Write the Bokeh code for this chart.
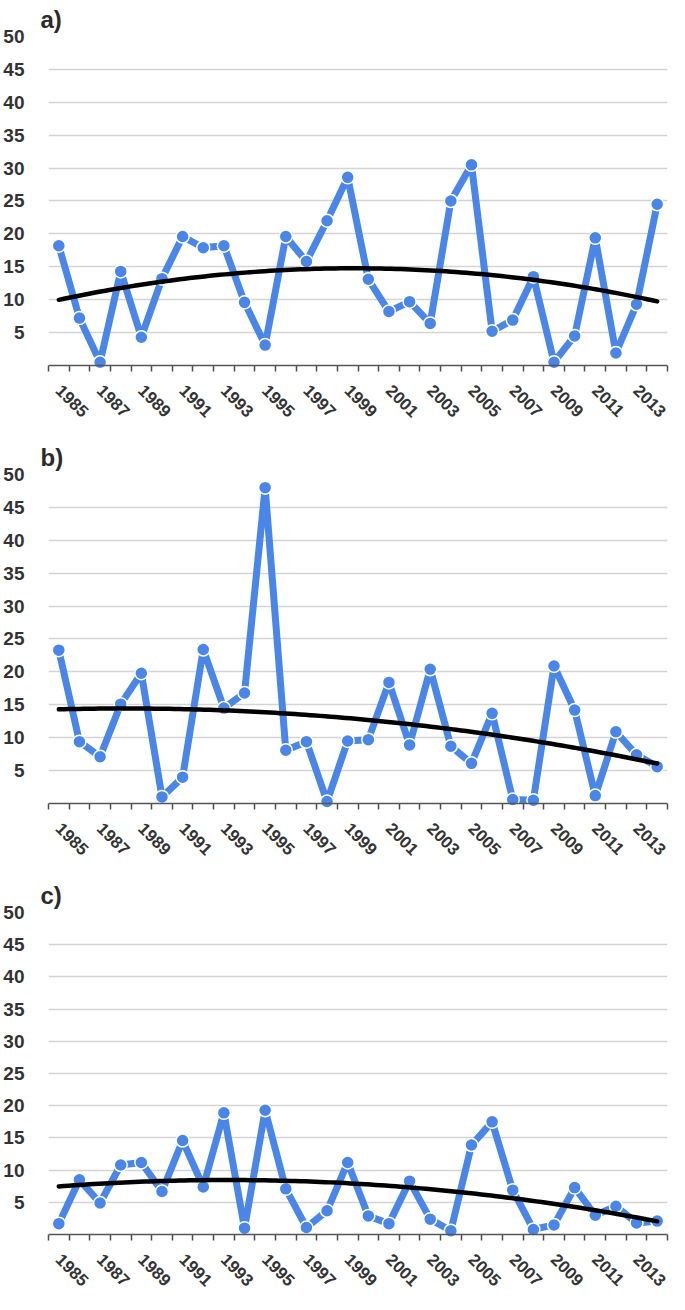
import numpy as np
from bokeh.plotting import figure
from bokeh.layouts import column
from bokeh.models import FixedTicker, Range1d, Title, ColumnDataSource, LinearAxis
from bokeh.embed import file_html
from bokeh.resources import INLINE

years = list(range(1985, 2015))
values_a = [18.2, 7.2, 0.5, 14.3, 4.3, 13.2, 19.6, 17.9, 18.2, 9.6, 3.1, 19.6, 15.8, 22.0,
            28.6, 13.1, 8.2, 9.7, 6.4, 25.0, 30.5, 5.2, 6.9, 13.5, 0.5, 4.5, 19.4, 1.9, 9.3, 24.5]
values_b = [23.3, 9.4, 7.1, 15.1, 19.8, 1.0, 4.0, 23.4, 14.5, 16.8, 48.0, 8.1, 9.4, 0.3,
            9.5, 9.7, 18.4, 8.9, 20.4, 8.7, 6.1, 13.7, 0.6, 0.5, 20.9, 14.2, 1.2, 10.9, 7.4, 5.6]
values_c = [1.7, 8.5, 4.9, 10.8, 11.2, 6.7, 14.6, 7.4, 18.9, 1.0, 19.3, 7.1, 1.1, 3.7,
            11.2, 2.9, 1.7, 8.3, 2.4, 0.6, 13.9, 17.5, 6.9, 0.8, 1.5, 7.3, 3.0, 4.4, 1.8, 2.1]
panel_titles = ["a)", "b)", "c)"]
y_ticks = [5, 10, 15, 20, 25, 30, 35, 40, 45, 50]
x_label_years = list(range(1985, 2014, 2))
x_tick_labels = [str(y) for y in x_label_years]

BLUE = "#4a86e8"
FONT = "Liberation Sans"


def make_panel(title, values, last):
    top = 30
    bottom = 48 if last else 68
    frame_h = 340
    p = figure(width=669, height=top + frame_h + bottom, output_backend="svg",
               toolbar_location=None, x_range=Range1d(1984.5, 2014.5),
               y_range=Range1d(-0.76, 50), min_border_left=37, min_border_right=2,
               min_border_top=top, min_border_bottom=bottom)
    p.outline_line_color = None
    p.background_fill_color = "white"
    t = Title(text=title, align="left", text_font=FONT, text_font_size="24px",
              text_font_style="bold", text_color="#2b2b2b", offset=-8, standoff=7)
    p.add_layout(t, "above")

    # y axis
    p.yaxis.ticker = FixedTicker(ticks=y_ticks)
    p.yaxis.axis_line_color = None
    p.yaxis.major_tick_line_color = None
    p.yaxis.minor_tick_line_color = None
    p.yaxis.major_label_text_font = FONT
    p.yaxis.major_label_text_font_size = "19px"
    p.yaxis.major_label_text_font_style = "bold"
    p.yaxis.major_label_text_color = "#333333"
    p.yaxis.major_label_standoff = 18
    p.ygrid.ticker = FixedTicker(ticks=y_ticks)
    p.ygrid.grid_line_color = "#d4d4d4"
    p.ygrid.grid_line_width = 1.6
    p.xgrid.grid_line_color = None

    # x axis at the frame bottom: labels + category boundary ticks reaching up to zero
    bounds = [y - 0.5 for y in years] + [years[-1] + 0.5]
    p.xaxis.ticker = FixedTicker(ticks=x_label_years, minor_ticks=bounds)
    p.xaxis.major_label_overrides = {y: s for y, s in zip(x_label_years, x_tick_labels)}
    p.xaxis.axis_line_color = None
    p.xaxis.major_tick_line_color = None
    p.xaxis.minor_tick_line_color = "#4d4d4d"
    p.xaxis.minor_tick_line_width = 1.5
    p.xaxis.minor_tick_in = 5
    p.xaxis.minor_tick_out = 1
    p.xaxis.major_label_orientation = -np.pi / 4
    p.xaxis.major_label_text_font = FONT
    p.xaxis.major_label_text_font_size = "17px"
    p.xaxis.major_label_text_font_style = "bold"
    p.xaxis.major_label_text_color = "#333333"
    p.xaxis.major_label_standoff = 11

    # x axis line at zero
    zero_axis = LinearAxis(fixed_location=0, ticker=FixedTicker(ticks=[]))
    zero_axis.major_label_text_font_size = "1px"
    zero_axis.major_label_text_alpha = 0
    zero_axis.axis_line_color = "#555555"
    zero_axis.axis_line_width = 1.6
    zero_axis.major_tick_line_color = None
    zero_axis.minor_tick_line_color = None
    p.add_layout(zero_axis, "below")

    src = ColumnDataSource(dict(x=years, y=values))
    p.line("x", "y", source=src, line_color=BLUE, line_width=7, line_join="round")
    p.scatter("x", "y", source=src, size=13, fill_color=BLUE, line_color="white", line_width=1.5)

    coeffs = np.polyfit(years, values, 2)
    xs = np.linspace(years[0], years[-1], 120)
    p.line(xs, np.polyval(coeffs, xs), line_color="black", line_width=4.5, line_cap="round")
    return p


plots = [make_panel(panel_titles[0], values_a, False),
         make_panel(panel_titles[1], values_b, False),
         make_panel(panel_titles[2], values_c, True)]
layout = column(*plots, spacing=0)
open("out.html", "w").write(file_html(layout, INLINE))
